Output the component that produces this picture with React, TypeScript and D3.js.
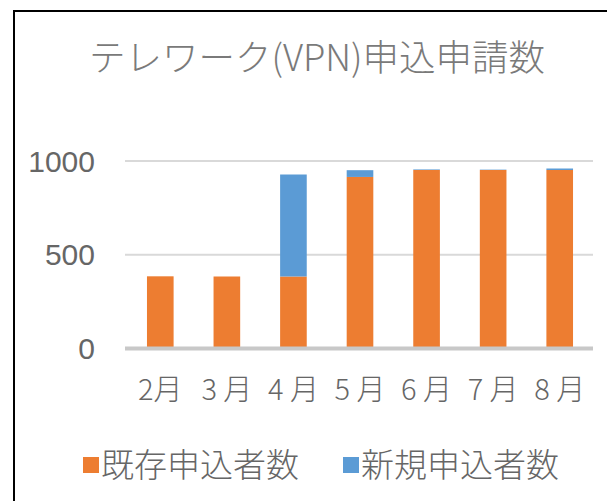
import React from "react";
import * as d3 from "d3";

const months = ["2月", "3 月", "4 月", "5 月", "6 月", "7 月", "8 月"];
const existing = [385, 384, 384, 915, 952, 952, 952];
const newApps = [0, 0, 544, 36, 3, 2, 8];
const yTicks = [0, 500, 1000];
const seriesNames = ["既存申込者数", "新規申込者数"];
const seriesColors = ["#ED7D31", "#5B9BD5"];
const title = "テレワーク(VPN)申込申請数";

const W = 607;
const H = 501;

export default function App() {
  const x = d3.scaleBand<string>().domain(months).range([127, 593]).paddingInner(0.6).paddingOuter(0.3);
  const y = d3.scaleLinear().domain([0, 1000]).range([348.5, 161]);

  const rows = months.map((m, i) => ({ m, existing: existing[i], newApps: newApps[i] }));
  const stack = d3.stack<any>().keys(["existing", "newApps"]);
  const layers = stack(rows);

  const jp = "'Noto Sans CJK JP', sans-serif";

  return (
    <svg
      width={W}
      height={H}
      style={{ position: "absolute", left: 0, top: 0, background: "#fff" }}
    >
      <rect x={0} y={0} width={W} height={H} fill="#fff" />
      <path d="M14,501 L14,11 L607,11" fill="none" stroke="#000" strokeWidth={2} />
      <text
        x={317}
        y={55}
        textAnchor="middle"
        dominantBaseline="central"
        fontFamily={jp}
        fontSize={36.5}
        fontWeight={300}
        fill="#7a7a7a"
      >
        {title}
      </text>
      {yTicks.slice(1).map((t) => (
        <line key={t} x1={125} x2={593} y1={y(t)} y2={y(t)} stroke="#d9d9d9" strokeWidth={2} />
      ))}
      {layers.map((layer, li) => (
        <g key={li} fill={seriesColors[li]}>
          {layer.map((d, i) => {
            const top = y(d[1]);
            const bot = y(d[0]);
            if (bot - top <= 0) return null;
            return (
              <rect
                key={i}
                x={x(months[i])}
                y={top}
                width={x.bandwidth()}
                height={bot - top}
              />
            );
          })}
        </g>
      ))}
      <line x1={125} x2={593} y1={y(0)} y2={y(0)} stroke="#c8c8c8" strokeWidth={4} />
      {yTicks.map((t) => (
        <text
          key={t}
          x={95}
          y={y(t)}
          textAnchor="end"
          dominantBaseline="central"
          fontFamily="'Liberation Sans', sans-serif"
          fontSize={30}
          fill="#666"
        >
          {t}
        </text>
      ))}
      {months.map((m) => (
        <text
          key={m}
          x={(x(m) as number) + x.bandwidth() / 2}
          y={387}
          textAnchor="middle"
          dominantBaseline="central"
          fontFamily={jp}
          fontSize={29}
          fontWeight={300}
          fill="#666"
        >
          {m}
        </text>
      ))}
      {seriesNames.map((s, i) => {
        const lx = i === 0 ? 83 : 343;
        return (
          <g key={s}>
            <rect x={lx} y={457} width={16} height={16} fill={seriesColors[i]} />
            <text
              x={lx + 18}
              y={463}
              dominantBaseline="central"
              fontFamily={jp}
              fontSize={33}
              fontWeight={300}
              fill="#666"
            >
              {s}
            </text>
          </g>
        );
      })}
    </svg>
  );
}
